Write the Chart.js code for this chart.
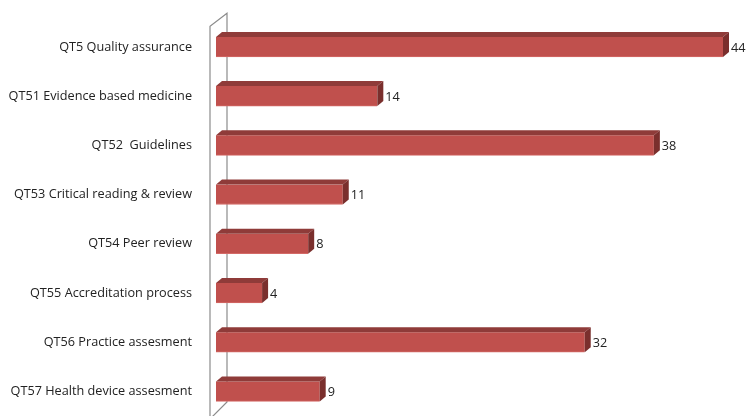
<!DOCTYPE html>
<html>
<head>
<meta charset="utf-8">
<script src="https://cdn.jsdelivr.net/npm/chart.js@4"></script>
<style>
  html, body { margin: 0; padding: 0; background: #fff; }
  #wrap { width: 747px; height: 416px; position: relative; }
</style>
</head>
<body>
<div id="wrap"><canvas id="qtChart"></canvas></div>
<script>
// categories and values
const categories = [
  'QT5 Quality assurance',
  'QT51 Evidence based medicine',
  'QT52  Guidelines',
  'QT53 Critical reading & review',
  'QT54 Peer review',
  'QT55 Accreditation process',
  'QT56 Practice assesment',
  'QT57 Health device assesment'
];
const counts = [44, 14, 38, 11, 8, 4, 32, 9];

const DEPTH_X = 6, DEPTH_Y = 5;

// draws the 3d side wall plus top/right faces of the bars and value labels
const bar3d = {
  id: 'bar3d',
  beforeDatasetsDraw(chart) {
    const { ctx, chartArea } = chart;
    const x0 = chartArea.left - 6, x1 = chartArea.left + 11;
    ctx.save();
    ctx.strokeStyle = '#8c8c8c';
    ctx.lineWidth = 1.2;
    ctx.beginPath();
    ctx.moveTo(x0, chart.height);
    ctx.lineTo(x0, chartArea.top + 4);
    ctx.lineTo(x1, chartArea.top - 9);
    ctx.lineTo(x1, chart.height - 14);
    ctx.lineTo(x1 - 15, chart.height + 1);
    ctx.stroke();
    ctx.restore();
  },
  afterDatasetsDraw(chart) {
    const { ctx } = chart;
    const meta = chart.getDatasetMeta(0);
    ctx.save();
    meta.data.forEach((bar, i) => {
      const p = bar.getProps(['x', 'y', 'base', 'height'], true);
      const top = p.y - p.height / 2, bot = p.y + p.height / 2;
      // top face
      ctx.fillStyle = '#8f3b39';
      ctx.beginPath();
      ctx.moveTo(p.base, top);
      ctx.lineTo(p.base + DEPTH_X, top - DEPTH_Y);
      ctx.lineTo(p.x + DEPTH_X, top - DEPTH_Y);
      ctx.lineTo(p.x, top);
      ctx.closePath();
      ctx.fill();
      // right face
      ctx.fillStyle = '#7a2f2d';
      ctx.beginPath();
      ctx.moveTo(p.x, top);
      ctx.lineTo(p.x + DEPTH_X, top - DEPTH_Y);
      ctx.lineTo(p.x + DEPTH_X, bot - DEPTH_Y);
      ctx.lineTo(p.x, bot);
      ctx.closePath();
      ctx.fill();
      // value label
      ctx.fillStyle = '#222';
      ctx.font = '12.7px "Open Sans", sans-serif';
      ctx.textAlign = 'left';
      ctx.textBaseline = 'middle';
      ctx.fillText(counts[i], p.x + DEPTH_X + 2, p.y + 1);
    });
    ctx.restore();
  }
};

const ctx = document.getElementById('qtChart').getContext('2d');
const qtChart = new Chart(ctx, {
  type: 'bar',
  data: {
    labels: categories,
    datasets: [{
      data: counts,
      backgroundColor: '#c0504d',
      borderColor: '#d46a67',
      borderWidth: { bottom: 1, top: 0, left: 0, right: 0 },
      borderSkipped: false,
      barThickness: 20
    }]
  },
  options: {
    indexAxis: 'y',
    responsive: true,
    maintainAspectRatio: false,
    animation: false,
    layout: { padding: { top: 22.3, right: 24, bottom: -4.5, left: 0 } },
    plugins: {
      legend: { display: false },
      tooltip: { enabled: false }
    },
    scales: {
      x: { display: false, min: 0, max: 44 },
      y: {
        afterFit(scale) {
          scale.width = 216;
          scale.paddingTop = 0;
          scale.paddingBottom = 0;
        },
        grid: { display: false, tickLength: 24 },
        border: { display: false },
        ticks: {
          color: '#222',
          padding: 0,
          font: { family: '"Open Sans", sans-serif', size: 12.7 }
        }
      }
    }
  },
  plugins: [bar3d]
});
</script>
</body>
</html>
